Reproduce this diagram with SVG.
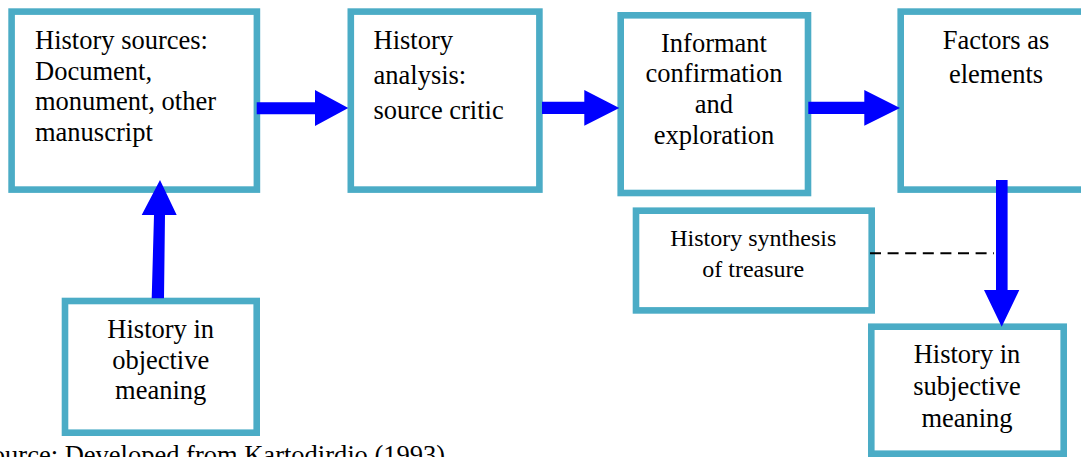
<svg xmlns="http://www.w3.org/2000/svg" width="1081" height="457" viewBox="0 0 1081 457">
<style>
.box{fill:#fff;stroke:#4BACC6;stroke-width:6.6}
.t{font-family:"Liberation Serif","Times New Roman",serif;font-size:26.5px;fill:#000}
.s{font-size:24px}
.c{text-anchor:middle}
.arr{fill:#0000FF}
.dash{stroke:#000;stroke-width:2;stroke-dasharray:11 6.6;fill:none}
</style>
<rect width="1081" height="457" fill="#fff"/>
<g id="n1"><rect class="box" x="11.6" y="11.6" width="245.3" height="178"/>
<text class="t" x="35" y="49">History sources:</text>
<text class="t" x="35" y="79.5">Document,</text>
<text class="t" x="35" y="110">monument, other</text>
<text class="t" x="35" y="140.5">manuscript</text></g>
<g id="n2"><rect class="box" x="350.8" y="11.6" width="188.6" height="178"/>
<text class="t" x="373.5" y="49">History</text>
<text class="t" x="373.5" y="84">analysis:</text>
<text class="t" x="373.5" y="119">source critic</text></g>
<g id="n3"><rect class="box" x="620.7" y="15.3" width="187.3" height="177.7"/>
<text class="t c" x="714" y="51.7">Informant</text>
<text class="t c" x="714" y="82.4">confirmation</text>
<text class="t c" x="714" y="113.1">and</text>
<text class="t c" x="714" y="143.8">exploration</text></g>
<g id="n4"><rect class="box" x="900.7" y="11.6" width="200" height="178"/>
<text class="t c" x="996" y="49.3">Factors as</text>
<text class="t c" x="996" y="83.3">elements</text></g>
<g id="n5"><rect class="box" x="636" y="210.7" width="235.7" height="99.7"/>
<text class="t s c" x="753.3" y="246">History synthesis</text>
<text class="t s c" x="753.3" y="276.7">of treasure</text></g>
<g id="n6"><rect class="box" x="65" y="301" width="191.7" height="131.7"/>
<text class="t c" x="160.7" y="338.3">History in</text>
<text class="t c" x="160.7" y="369">objective</text>
<text class="t c" x="160.7" y="398.5">meaning</text></g>
<g id="n7"><rect class="box" x="871.3" y="326.7" width="192.4" height="127"/>
<text class="t c" x="967" y="363.3">History in</text>
<text class="t c" x="967" y="395">subjective</text>
<text class="t c" x="967" y="426.7">meaning</text></g>
<g id="connectors">
<polygon class="arr" points="256.7,102.3 315,102.3 315,90 348.3,108 315,126 315,114.3 256.7,114.3"/>
<polygon class="arr" points="542,101.8 584.3,101.8 584.3,90 619.3,108 584.3,125.8 584.3,114 542,114"/>
<polygon class="arr" points="808.3,101.8 864.3,101.8 864.3,90 900,108 864.3,125.8 864.3,114 808.3,114"/>
<polygon class="arr" points="151.7,298.3 154,215 141.7,215 160,180 176.7,215 165,215 164,298.3"/>
<polygon class="arr" points="996,180 1007.6,180 1007.6,290 1019.3,290 1001.7,326.7 984,290 996,290"/>
<line class="dash" x1="870" y1="253.3" x2="994" y2="253.3"/>
</g>
<text class="t" x="-22.9" y="464.3">Source: Developed from Kartodirdjo (1993)</text>
</svg>
